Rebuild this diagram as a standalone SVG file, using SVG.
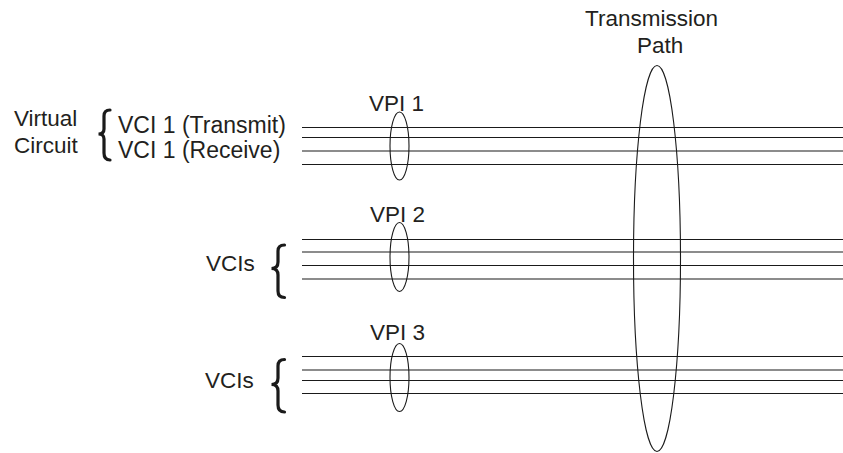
<svg xmlns="http://www.w3.org/2000/svg" width="843" height="453" viewBox="0 0 843 453">
<style>
text{font-family:"Liberation Sans",Arial,sans-serif;font-size:22.5px;fill:#231f20}
.big{font-size:23px}
.ln{stroke:#1a1a1a;stroke-width:1.2;fill:none}
.ell{stroke:#1a1a1a;stroke-width:1.1;fill:none}
.br{stroke:#1a1a1a;stroke-width:3.2;fill:none;stroke-linecap:round}
</style>
<rect width="843" height="453" fill="#fff"/>
<g id="connectors">
<path class="ln" d="M302 127.5H843M302 137.5H843M302 151H843M302 164.5H843"/>
<path class="ln" d="M302 239.5H843M302 252H843M302 265.5H843M302 279H843"/>
<path class="ln" d="M302 356.5H843M302 370H843M302 380.5H843M302 393.5H843"/>
</g>
<g id="vpi1">
<ellipse class="ell" cx="399.5" cy="146" rx="9.5" ry="34"/>
<text x="369" y="111">VPI 1</text>
</g>
<g id="vpi2">
<ellipse class="ell" cx="399.5" cy="257" rx="9.5" ry="34.5"/>
<text x="370" y="222">VPI 2</text>
</g>
<g id="vpi3">
<ellipse class="ell" cx="399.5" cy="377.5" rx="9.5" ry="34"/>
<text x="370" y="340">VPI 3</text>
</g>
<g id="transmission-path">
<ellipse class="ell" cx="657" cy="258.5" rx="23.5" ry="193"/>
<text x="585" y="26">Transmission</text>
<text x="637" y="53">Path</text>
</g>
<g id="virtual-circuit">
<text x="14" y="126">Virtual</text>
<text x="14" y="153">Circuit</text>
<path class="br" d="M110 110Q104 110 104 116V129Q104 134 98.5 134Q104 134 104 139V153Q104 160 110 160"/>
<text class="big" x="118" y="133">VCI 1 (Transmit)</text>
<text class="big" x="118" y="158">VCI 1 (Receive)</text>
</g>
<g id="vcis2">
<text x="206" y="271">VCIs</text>
<path class="br" d="M284.5 245Q278 245 278 251V262Q278 268.5 271.5 268.5Q278 268.5 278 275V291Q278 297.5 284.5 297.5"/>
</g>
<g id="vcis3">
<text x="205" y="388">VCIs</text>
<path class="br" d="M284.5 359.5Q278 359.5 278 366V378Q278 384.5 271.5 384.5Q278 384.5 278 391V405Q278 412 284.5 412"/>
</g>
</svg>
